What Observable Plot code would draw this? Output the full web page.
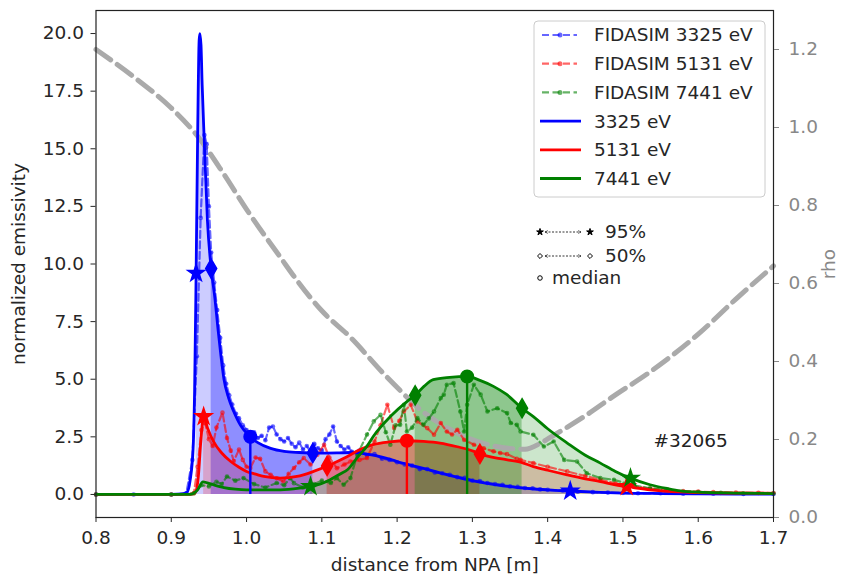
<!DOCTYPE html>
<html><head><meta charset="utf-8">
<script src="https://cdn.jsdelivr.net/npm/d3@7"></script>
<script src="https://cdn.jsdelivr.net/npm/@observablehq/plot@0.6"></script>
<style>
body{margin:0;background:#fff;}
#wrap{position:relative;width:844px;height:575px;font-family:"DejaVu Sans",sans-serif;}
#overlay{position:absolute;left:0;top:0;pointer-events:none;}
</style></head>
<body><div id="wrap"></div>
<script>
// ---------- data ----------
const xTicks = [0.8, 0.9, 1.0, 1.1, 1.2, 1.3, 1.4, 1.5, 1.6, 1.7];
const yTicks = [0, 2.5, 5, 7.5, 10, 12.5, 15, 17.5, 20];
const rhoTicks = [0, 0.2, 0.4, 0.6, 0.8, 1.0, 1.2];
const energies = ["3325 eV", "5131 eV", "7441 eV"];
const colors = ["#0000ff", "#ff0000", "#008000"];
const shotLabel = "#32065";

// model emissivity (x [m], normalized emissivity)
const model3325 = [[0.80,0],[0.90,0],[0.915,0.02],[0.921,0.1],[0.925,0.6],[0.929,2.0],[0.931,4.5],[0.933,9.6],[0.935,15.5],[0.937,19.7],[0.938,20],[0.9395,19.5],[0.941,17.8],[0.944,15.2],[0.948,11.9],[0.953,9.8],[0.958,8.5],[0.962,7.2],[0.966,6.0],[0.970,5.0],[0.976,4.2],[0.983,3.6],[0.992,3.0],[1.0,2.66],[1.005,2.5],[1.015,2.25],[1.032,2.0],[1.05,1.87],[1.07,1.82],[1.094,1.79],[1.12,1.8],[1.14,1.82],[1.16,1.75],[1.18,1.62],[1.20,1.43],[1.227,1.2],[1.25,1.0],[1.271,0.82],[1.30,0.6],[1.33,0.43],[1.36,0.3],[1.40,0.2],[1.43,0.15],[1.47,0.09],[1.50,0.06],[1.55,0.04],[1.60,0.03],[1.65,0.02],[1.70,0.015]];
const model5131 = [[0.80,0],[0.925,0],[0.932,0.1],[0.936,0.8],[0.939,2.2],[0.943,3.38],[0.948,2.9],[0.956,2.3],[0.967,1.8],[0.979,1.43],[0.99,1.18],[1.0,1.0],[1.012,0.88],[1.023,0.78],[1.045,0.71],[1.067,0.78],[1.089,1.0],[1.111,1.29],[1.134,1.65],[1.151,1.95],[1.168,2.16],[1.19,2.28],[1.213,2.33],[1.235,2.3],[1.257,2.23],[1.28,2.07],[1.302,1.87],[1.31,1.76],[1.337,1.55],[1.364,1.4],[1.381,1.21],[1.40,1.05],[1.426,0.85],[1.45,0.68],[1.47,0.56],[1.49,0.42],[1.514,0.3],[1.536,0.2],[1.559,0.13],[1.60,0.08],[1.65,0.06],[1.70,0.05]];
const model7441 = [[0.80,0],[0.925,0],[0.935,0.2],[0.942,0.55],[0.948,0.5],[0.956,0.42],[0.97,0.3],[0.985,0.23],[1.0,0.2],[1.045,0.2],[1.07,0.27],[1.085,0.35],[1.10,0.48],[1.111,0.64],[1.125,0.9],[1.134,1.07],[1.147,1.6],[1.16,2.1],[1.169,2.55],[1.191,3.38],[1.213,4.03],[1.224,4.3],[1.236,4.7],[1.248,4.98],[1.27,5.08],[1.293,5.12],[1.31,4.95],[1.328,4.69],[1.345,4.35],[1.366,3.74],[1.381,3.38],[1.40,2.85],[1.426,2.23],[1.45,1.7],[1.47,1.36],[1.49,1.0],[1.51,0.71],[1.536,0.42],[1.56,0.25],[1.576,0.16],[1.60,0.1],[1.65,0.06],[1.70,0.04]];

// FIDASIM emissivity
const fidasim3325 = [[0.80,0],[0.85,0],[0.90,0],[0.92,0.05],[0.928,1.5],[0.934,6],[0.939,12],[0.944,15.6],[0.947,15.2],[0.950,12.5],[0.953,10.5],[0.957,9.2],[0.961,8.0],[0.965,6.8],[0.969,5.6],[0.973,4.8],[0.977,4.3],[0.981,3.9],[0.986,3.5],[0.99,3.3],[0.995,3.0],[1.0,2.8],[1.005,2.6],[1.01,2.7],[1.015,2.45],[1.02,2.55],[1.025,2.35],[1.03,2.9],[1.035,2.95],[1.04,2.6],[1.045,2.4],[1.05,2.3],[1.055,2.45],[1.06,2.2],[1.065,2.05],[1.07,2.25],[1.075,1.95],[1.08,2.1],[1.085,1.85],[1.09,2.2],[1.095,2.0],[1.10,1.9],[1.105,2.4],[1.11,2.6],[1.115,2.95],[1.12,2.3],[1.125,2.1],[1.13,1.95],[1.135,2.05],[1.14,1.85],[1.15,1.9],[1.16,1.7],[1.17,1.75],[1.18,1.55],[1.19,1.5],[1.20,1.4],[1.21,1.3],[1.22,1.25],[1.23,1.1],[1.24,1.1],[1.25,0.95],[1.26,0.92],[1.27,0.85],[1.28,0.75],[1.29,0.72],[1.30,0.6],[1.31,0.58],[1.32,0.5],[1.33,0.45],[1.34,0.42],[1.35,0.35],[1.36,0.33],[1.37,0.28],[1.38,0.27],[1.39,0.22],[1.40,0.2],[1.42,0.17],[1.44,0.12],[1.46,0.1],[1.48,0.08],[1.50,0.07],[1.52,0.05],[1.55,0.05],[1.58,0.03],[1.62,0.03],[1.66,0.02],[1.70,0.02]];
const fidasim5131 = [[0.80,0],[0.90,0],[0.93,0.05],[0.935,1.2],[0.94,2.8],[0.945,3.1],[0.95,2.4],[0.955,2.1],[0.96,2.9],[0.968,3.55],[0.974,2.45],[0.979,1.9],[0.983,1.45],[0.99,1.95],[0.995,1.5],[1.0,1.2],[1.005,1.15],[1.012,1.6],[1.018,1.55],[1.025,1.0],[1.032,0.85],[1.04,0.7],[1.049,0.56],[1.056,0.9],[1.063,1.15],[1.07,1.4],[1.076,1.58],[1.085,1.3],[1.094,1.72],[1.103,2.16],[1.11,1.6],[1.12,1.14],[1.13,1.3],[1.138,1.43],[1.15,1.5],[1.16,1.58],[1.17,2.3],[1.178,3.0],[1.187,3.89],[1.196,2.88],[1.203,3.2],[1.209,3.6],[1.218,3.89],[1.227,3.17],[1.24,2.88],[1.249,2.59],[1.258,3.1],[1.266,2.73],[1.273,2.6],[1.28,2.81],[1.289,2.37],[1.302,2.16],[1.315,2.0],[1.328,1.87],[1.337,1.8],[1.346,1.75],[1.359,1.55],[1.364,1.5],[1.381,1.36],[1.40,1.2],[1.426,1.0],[1.45,0.8],[1.47,0.64],[1.49,0.48],[1.514,0.35],[1.536,0.26],[1.559,0.2],[1.58,0.15],[1.60,0.13],[1.62,0.1],[1.65,0.08],[1.68,0.07],[1.70,0.06]];
const fidasim7441 = [[0.80,0],[0.90,0],[0.93,0.05],[0.94,0.4],[0.95,0.35],[0.96,0.55],[0.967,0.45],[0.974,0.78],[0.985,0.6],[0.996,0.71],[1.01,0.45],[1.025,0.3],[1.04,0.5],[1.05,0.4],[1.058,0.71],[1.063,0.49],[1.075,0.3],[1.09,0.45],[1.10,0.6],[1.112,0.5],[1.12,0.71],[1.129,0.42],[1.138,0.71],[1.147,1.72],[1.16,2.6],[1.169,3.17],[1.178,3.46],[1.185,2.7],[1.191,2.16],[1.198,3.0],[1.204,3.02],[1.209,3.89],[1.213,2.73],[1.22,2.9],[1.227,3.31],[1.235,3.02],[1.242,3.3],[1.249,3.6],[1.258,4.18],[1.262,4.33],[1.266,4.76],[1.275,4.83],[1.284,3.6],[1.289,2.73],[1.293,3.89],[1.302,4.76],[1.311,4.33],[1.32,3.6],[1.333,3.74],[1.346,3.53],[1.351,3.1],[1.359,3.02],[1.364,2.73],[1.381,2.59],[1.395,2.08],[1.408,2.3],[1.422,1.5],[1.439,1.43],[1.452,0.92],[1.47,0.71],[1.488,0.64],[1.51,0.42],[1.536,0.27],[1.56,0.2],[1.58,0.12],[1.60,0.1],[1.63,0.07],[1.66,0.05],[1.70,0.04]];

// statistics: [95% low, 50% low, median, 50% high, 95% high]
const stats3325 = [0.933, 0.953, 1.005, 1.088, 1.43];
const stats5131 = [0.943, 1.107, 1.213, 1.31, 1.505];
const stats7441 = [1.085, 1.224, 1.293, 1.366, 1.51];

// rho profile (right axis)
const rhoProfile = [[0.80,1.2],[0.85,1.13],[0.90,1.05],[0.934,0.98],[0.97,0.88],[1.0,0.79],[1.045,0.667],[1.067,0.608],[1.10,0.53],[1.138,0.462],[1.182,0.369],[1.204,0.326],[1.227,0.283],[1.271,0.225],[1.315,0.19],[1.35,0.177],[1.37,0.175],[1.39,0.19],[1.404,0.206],[1.447,0.257],[1.492,0.317],[1.532,0.368],[1.60,0.47],[1.65,0.56],[1.70,0.645]];

// ---------- helpers ----------
const Y0 = -1, Y1 = 21, RHO1 = 1.3;
const rhoToY = r => Y0 + r * (Y1 - Y0) / RHO1;
const yToRho = y => (y - Y0) * RHO1 / (Y1 - Y0);
function at(pts, x) {
  for (let i = 1; i < pts.length; i++) {
    if (pts[i][0] >= x) { const [x0,y0] = pts[i-1], [x1,y1] = pts[i]; return y0 + (y1 - y0) * (x - x0) / (x1 - x0); }
  }
  return pts[pts.length-1][1];
}
function segment(pts, lo, hi) {
  return [[lo, at(pts, lo)], ...pts.filter(p => p[0] > lo && p[0] < hi), [hi, at(pts, hi)]];
}
const series = [
  {model: model3325, fid: fidasim3325, stats: stats3325, color: colors[0]},
  {model: model5131, fid: fidasim5131, stats: stats5131, color: colors[1]},
  {model: model7441, fid: fidasim7441, stats: stats7441, color: colors[2]}
];
const X = d => d[0], Yv = d => d[1];
const FS = "18.5px";

const marks = [];
for (const s of series) {
  marks.push(Plot.areaY(segment(s.model, s.stats[0], s.stats[4]), {x: X, y: Yv, fill: s.color, fillOpacity: 0.2, curve: "monotone-x"}));
  marks.push(Plot.areaY(segment(s.model, s.stats[1], s.stats[3]), {x: X, y: Yv, fill: s.color, fillOpacity: 0.3, curve: "monotone-x"}));
}
marks.push(Plot.line(rhoProfile, {x: X, y: d => rhoToY(d[1]), stroke: "#aaaaaa", strokeWidth: 5, strokeDasharray: "18,8", curve: "monotone-x"}));
for (const s of series) {
  marks.push(Plot.line(s.fid, {x: X, y: Yv, stroke: s.color, strokeOpacity: 0.6, strokeWidth: 2.2, strokeDasharray: "7,3.5"}));
  marks.push(Plot.dot(s.fid, {x: X, y: Yv, r: 2.3, fill: s.color, fillOpacity: 0.6}));
}
for (const s of series) {
  marks.push(Plot.line(s.model, {x: X, y: Yv, stroke: s.color, strokeWidth: 2.8, curve: "monotone-x"}));
}
for (const s of series) {
  const med = s.stats[2];
  marks.push(Plot.ruleX([med], {x: d => d, y1: 0, y2: d => at(s.model, d), stroke: s.color, strokeWidth: 2.4}));
  marks.push(Plot.dot([s.stats[0], s.stats[4]], {x: d => d, y: d => at(s.model, d), symbol: "star", r: 5.2, fill: s.color, stroke: s.color}));
  marks.push(Plot.dot([s.stats[1], s.stats[3]], {x: d => d, y: d => at(s.model, d), symbol: "diamond", r: 5.8, fill: s.color, stroke: s.color}));
  marks.push(Plot.dot([med], {x: d => d, y: d => at(s.model, d), symbol: "circle", r: 6.3, fill: s.color, stroke: s.color}));
}
marks.push(Plot.text([shotLabel], {x: () => 1.59, y: () => 2.3, text: d => d, fontSize: 18.5, fill: "#222"}));
marks.push(Plot.frame({stroke: "#222", strokeWidth: 1.2}));
marks.push(Plot.axisX({ticks: xTicks, tickFormat: d3.format(".1f"), tickSize: 5, tickPadding: 8, label: "distance from NPA [m]", labelAnchor: "center", labelOffset: 53, labelArrow: "none"}));
marks.push(Plot.axisY({ticks: yTicks, tickFormat: d3.format(".1f"), tickSize: 5, tickPadding: 7, label: "normalized emissivity", labelAnchor: "center", labelOffset: 84, labelArrow: "none"}));
marks.push(Plot.axisY({anchor: "right", ticks: rhoTicks.map(rhoToY), tickFormat: d => yToRho(d).toFixed(1), color: "#888", tickSize: 5, tickPadding: 10, label: "rho", labelAnchor: "center", labelOffset: 61, labelArrow: "none"}));

const chart = Plot.plot({
  width: 844, height: 575,
  marginLeft: 95.5, marginRight: 71, marginTop: 10, marginBottom: 58,
  x: {domain: [0.8, 1.7]},
  y: {domain: [Y0, Y1]},
  style: {fontFamily: "DejaVu Sans, sans-serif", fontSize: FS, color: "#262626", background: "white", overflow: "visible"},
  marks
});
const wrap = document.getElementById("wrap");
wrap.appendChild(chart);

// ---------- legend overlay ----------
const ov = d3.select(wrap).append("svg").attr("id", "overlay").attr("width", 844).attr("height", 575)
  .style("font-family", "DejaVu Sans, sans-serif").style("font-size", FS);
ov.append("rect").attr("x", 534).attr("y", 21).attr("width", 231).attr("height", 176).attr("rx", 4)
  .attr("fill", "white").attr("fill-opacity", 0.85).attr("stroke", "#cccccc");
const legendRows = [
  ...energies.map((e, i) => ({label: "FIDASIM " + e, color: colors[i], dashed: true})),
  ...energies.map((e, i) => ({label: e, color: colors[i], dashed: false}))
];
legendRows.forEach((r, i) => {
  const cy = 35 + i * 28.7;
  const g = ov.append("g");
  if (r.dashed) {
    g.append("line").attr("x1", 542).attr("x2", 577).attr("y1", cy).attr("y2", cy).attr("stroke", r.color)
      .attr("stroke-opacity", 0.6).attr("stroke-width", 2.2).attr("stroke-dasharray", "7,3.5");
    g.append("circle").attr("cx", 560).attr("cy", cy).attr("r", 2.5).attr("fill", r.color).attr("fill-opacity", 0.6);
  } else {
    g.append("line").attr("x1", 540).attr("x2", 581).attr("y1", cy).attr("y2", cy).attr("stroke", r.color).attr("stroke-width", 2.8);
  }
  g.append("text").attr("x", 594).attr("y", cy).attr("dy", "0.35em").attr("fill", "#262626").text(r.label);
});

// marker key
const keyRows = [{sym: d3.symbolStar, fill: "#000", label: "95%", arrow: true, y: 232},
                 {sym: d3.symbolDiamond2, fill: "none", label: "50%", arrow: true, y: 256},
                 {sym: d3.symbolCircle, fill: "none", label: "median", arrow: false, y: 278}];
const defs = ov.append("defs");
["l","r"].forEach(k => {
  defs.append("marker").attr("id", "ah" + k).attr("viewBox", "0 0 6 6").attr("refX", 5).attr("refY", 3)
    .attr("markerWidth", 5).attr("markerHeight", 5).attr("orient", "auto-start-reverse")
    .append("path").attr("d", "M0,0.5 L5,3 L0,5.5").attr("fill", "none").attr("stroke", "#000").attr("stroke-width", 0.8);
});
keyRows.forEach(k => {
  const sym = d3.symbol(k.sym, k.sym === d3.symbolStar ? 14 : 16);
  ov.append("path").attr("d", sym()).attr("transform", `translate(540,${k.y})`).attr("fill", k.fill).attr("stroke", "#000").attr("stroke-width", 1);
  if (k.arrow) {
    ov.append("line").attr("x1", 545).attr("x2", 581).attr("y1", k.y).attr("y2", k.y).attr("stroke", "#000")
      .attr("stroke-width", 0.8).attr("stroke-dasharray", "2,1.5").attr("marker-start", "url(#ahl)").attr("marker-end", "url(#ahr)");
    ov.append("path").attr("d", sym()).attr("transform", `translate(590,${k.y})`).attr("fill", k.fill).attr("stroke", "#000").attr("stroke-width", 1);
    ov.append("text").attr("x", 605).attr("y", k.y).attr("dy", "0.35em").attr("fill", "#262626").text(k.label);
  } else {
    ov.append("text").attr("x", 552).attr("y", k.y).attr("dy", "0.35em").attr("fill", "#262626").text(k.label);
  }
});
</script></body></html>
